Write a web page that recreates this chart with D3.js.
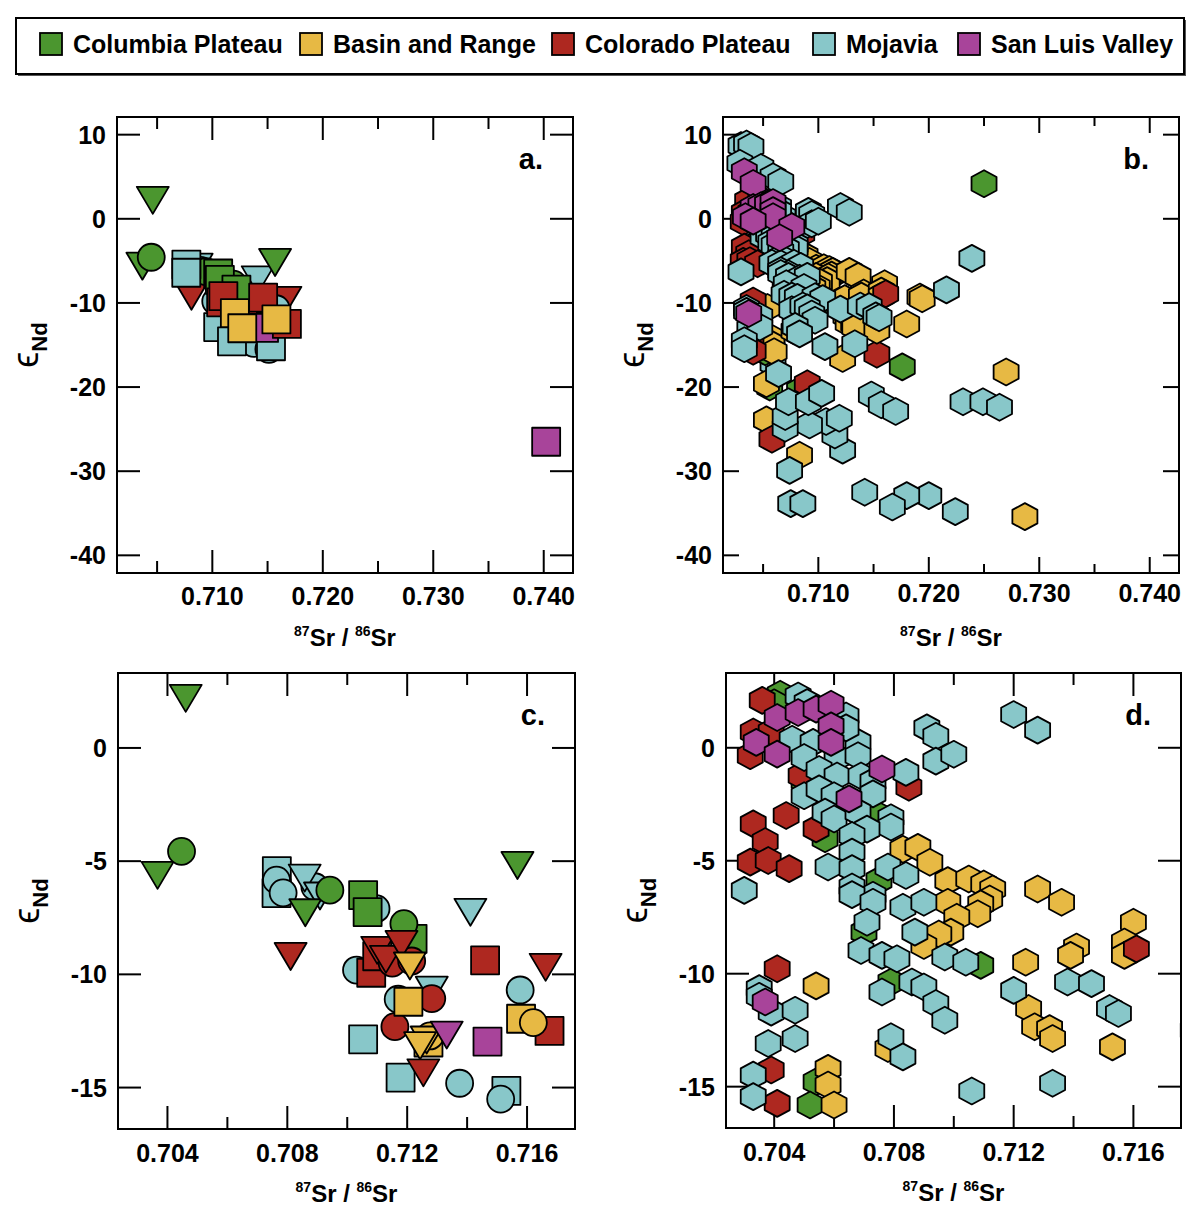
<!DOCTYPE html>
<meta charset="utf-8">
<script src="https://d3js.org/d3.v7.min.js"></script>
<style>
  body { margin: 0; background: #fff; }
  text { font-family: "Liberation Sans", Arial, Helvetica, sans-serif; font-weight: bold; fill: #000; }
</style>
<div id="chart"></div>
<script>
// ---- regions and colours
var regions = ["Columbia Plateau", "Basin and Range", "Colorado Plateau", "Mojavia", "San Luis Valley"];
var regionColors = ["#4b962f", "#e7b944", "#ae2820", "#88c7c9", "#a8449a"];

// ---- panels a & c : [87Sr/86Sr, eNd, marker]  (s square, c circle, t triangle)
var symMojavia = [
  [0.70765, -5.44, "s"], [0.70764, -6.41, "s"], [0.71053, -12.87, "s"], [0.71178, -14.56, "s"], [0.71531, -15.15, "s"],
  [0.70764, -5.84, "c"], [0.70786, -6.40, "c"], [0.70892, -6.13, "c"], [0.71096, -7.10, "c"], [0.71031, -9.81, "c"],
  [0.71170, -11.10, "c"], [0.71577, -10.69, "c"], [0.71375, -14.81, "c"], [0.71512, -15.51, "c"],
  [0.70858, -5.75, "t"], [0.70909, -6.54, "t"], [0.71411, -7.26, "t"], [0.71282, -10.7, "t"]
];
var symColumbia = [
  [0.70367, -5.63, "t"], [0.70461, 2.19, "t"], [0.70860, -7.28, "t"], [0.71568, -5.19, "t"],
  [0.71053, -6.50, "s"], [0.71068, -7.25, "s"], [0.71218, -8.43, "s"],
  [0.70447, -4.57, "c"], [0.70942, -6.28, "c"], [0.71189, -7.76, "c"]
];
var symColorado = [
  [0.71080, -9.93, "s"], [0.71100, -9.2, "s"], [0.71460, -9.38, "s"], [0.71675, -12.50, "s"],
  [0.71150, -9.5, "c"], [0.71215, -9.41, "c"], [0.71282, -11.07, "c"], [0.71159, -12.31, "c"],
  [0.70811, -9.21, "t"], [0.71100, -8.94, "t"], [0.71129, -9.34, "t"], [0.71181, -8.68, "t"], [0.71662, -9.69, "t"], [0.71254, -14.35, "t"]
];
var symBasin = [
  [0.71204, -11.21, "s"], [0.71271, -13.01, "s"], [0.71580, -11.96, "s"],
  [0.71276, -12.72, "c"], [0.71621, -12.13, "c"],
  [0.71209, -9.63, "t"], [0.71265, -12.9, "t"], [0.71243, -13.15, "t"]
];
var symSanLuis = [
  [0.71468, -12.97, "s"], [0.74022, -26.5, "s"], [0.71332, -12.68, "t"]
];

// ---- panels b & d : hexagons [87Sr/86Sr, eNd]
var hexColumbia = [
  [0.7042, 2.37], [0.7040, 1.99], [0.7050, -1.46], [0.7075, -3.0], [0.7057, -4.03], [0.7075, -5.87], [0.7070, -8.16],
  [0.7109, -9.63], [0.7079, -10.37], [0.7054, -14.78], [0.7052, -15.81],
  [0.7250, 4.17], [0.7176, -17.6], [0.7056, -20.0], [0.7083, -20.4]
];
var hexBasin = [
  [0.7083, -4.49], [0.7088, -4.41], [0.7092, -5.07], [0.7098, -5.88], [0.7105, -5.81], [0.7110, -6.03], [0.7113, -6.25],
  [0.7112, -6.69], [0.7098, -6.84], [0.7109, -6.91], [0.7108, -7.35], [0.7101, -7.5], [0.7099, -8.16], [0.7095, -8.24], [0.7090, -8.75],
  [0.7128, -6.25], [0.7136, -6.84], [0.7124, -9.49], [0.7141, -8.82], [0.7139, -9.19], [0.7160, -7.72], [0.7157, -8.6], [0.7157, -9.19],
  [0.7125, -11.54], [0.7127, -12.35], [0.7132, -12.43], [0.7133, -12.87], [0.7153, -13.24],
  [0.7054, -10.54], [0.7058, -14.19], [0.7058, -14.93], [0.7060, -15.81], [0.7078, -13.31],
  [0.7192, -9.3], [0.7194, -9.5], [0.7180, -12.5], [0.7270, -18.2], [0.7287, -35.4], [0.7083, -28.1], [0.7053, -19.6], [0.7053, -23.9]
];
var hexColorado = [
  [0.7036, 2.1], [0.7033, 0.7], [0.7039, 0.7], [0.7032, -0.35], [0.7049, -1.24], [0.7085, -1.75], [0.7044, -3.0], [0.7033, -3.37],
  [0.7054, -3.59], [0.7037, -4.15], [0.7032, -5.06], [0.7038, -4.99], [0.7045, -5.35], [0.7041, -9.78], [0.7161, -8.9],
  [0.7039, -14.26], [0.7041, -15.74],
  [0.7090, -19.6], [0.7058, -26.2]
];
var hexMojavia = [
  [0.7030, 8.7], [0.7035, 8.9], [0.7039, 8.6], [0.7029, 6.6], [0.7048, 6.1], [0.7059, 5.0], [0.7066, 4.4],
  [0.7048, 2.29], [0.7051, 2.0], [0.7064, 1.41], [0.7046, 0.38], [0.7053, 0.24], [0.7050, -0.43], [0.7061, -0.43],
  [0.7068, 0.24], [0.7068, -0.35], [0.7064, 0.88], [0.7055, -0.96], [0.7061, -1.25], [0.7069, -1.25], [0.7073, -1.5],
  [0.7084, -1.09], [0.7050, -2.12], [0.7055, -1.82], [0.7060, -2.12], [0.7073, -2.04], [0.7057, -2.85], [0.7060, -3.15],
  [0.7068, -2.85], [0.7079, -3.1], [0.7079, -3.51], [0.7071, -3.6], [0.7066, -3.88], [0.7066, -4.62], [0.7058, -5.28],
  [0.7066, -5.35], [0.7078, -5.28], [0.7084, -5.65], [0.7030, -6.31], [0.7066, -6.16], [0.7073, -6.53], [0.7066, -6.5],
  [0.7091, 0.88], [0.7094, 0.51], [0.7094, -0.59], [0.7100, -0.29], [0.7120, 1.47], [0.7128, 0.78],
  [0.7073, -6.84], [0.7083, -7.06], [0.7090, -6.84], [0.7071, -7.72], [0.7087, -8.16], [0.7069, -8.97], [0.7076, -9.19],
  [0.7081, -9.34], [0.7097, -9.26], [0.7104, -9.49], [0.7076, -10.81], [0.7086, -10.37], [0.7090, -10.59], [0.7094, -11.32],
  [0.7097, -12.06], [0.7120, -10.74], [0.7079, -12.79], [0.7083, -13.68], [0.7138, -10.37], [0.7146, -10.44], [0.7152, -11.54],
  [0.7155, -11.76], [0.7133, -14.85], [0.7106, -15.19], [0.7035, -10.66], [0.7035, -11.0], [0.7039, -11.7], [0.7047, -11.62],
  [0.7038, -13.09], [0.7047, -12.87], [0.7033, -14.49], [0.7033, -15.44],
  [0.7239, -4.7], [0.7216, -8.45], [0.7231, -21.75], [0.7249, -21.75], [0.7264, -22.4], [0.7224, -34.8], [0.7200, -32.9],
  [0.7180, -32.9], [0.7167, -34.25], [0.7142, -32.5], [0.7075, -33.85], [0.7086, -33.85], [0.7074, -29.9], [0.7122, -27.5],
  [0.7115, -25.7], [0.7107, -24.1], [0.7119, -23.7], [0.7092, -24.5], [0.7070, -24.9], [0.7070, -23.5], [0.7073, -21.75],
  [0.7091, -21.75], [0.7103, -20.75], [0.7064, -18.4], [0.7148, -20.95], [0.7157, -22.1], [0.7170, -22.9]
];
var hexSanLuis = [
  [0.7033, 5.6], [0.7041, 4.2],
  [0.7041, 1.34], [0.7048, 1.56], [0.7054, 1.71], [0.7059, 1.93], [0.7059, 0.97], [0.7059, 0.24], [0.7034, 0.24],
  [0.7041, -0.28], [0.7076, -0.94], [0.7065, -2.26], [0.7037, -11.25]
];
// samples seen in panel b only
var hexOnlyB = [[0.7153, -16.1, "Colorado Plateau"], [0.7122, -16.6, "Basin and Range"], [0.7059, -17.2, "Mojavia"]];

// ---- tick values
var wideXMajor = [0.710, 0.720, 0.730, 0.740], wideXMinor = [0.705, 0.715, 0.725, 0.735];
var wideY = [10, 0, -10, -20, -30, -40];
var zoomXMajor = [0.704, 0.708, 0.712, 0.716], zoomXMinor = [0.706, 0.710, 0.714];
var zoomY = [0, -5, -10, -15];

var W = 1188, H = 1209;
var svg = d3.select("#chart").append("svg").attr("width", W).attr("height", H);

function color(name) { return regionColors[regions.indexOf(name)]; }

function markerPath(t) {
  if (t === "s") return "M-14,-14H14V14H-14Z";
  if (t === "c") return d3.symbol(d3.symbolCircle, Math.PI * 13.5 * 13.5)();
  if (t === "t") return "M-16,-13.5H16L0,13.5Z";
  // pointy-top hexagon, a touch wider than regular
  var r = 13.5, p = [];
  for (var k = 0; k < 6; k++) {
    var a = Math.PI / 2 + k * Math.PI / 3;
    p.push([1.07 * r * Math.cos(a), -r * Math.sin(a)]);
  }
  return "M" + p.map(function(q) { return q[0].toFixed(2) + "," + q[1].toFixed(2); }).join("L") + "Z";
}

// panel c draws region by region
var symLayers = [
  ["Mojavia", symMojavia], ["Columbia Plateau", symColumbia], ["Colorado Plateau", symColorado],
  ["Basin and Range", symBasin], ["San Luis Valley", symSanLuis]
];
// panel a draws shape by shape (squares end up on top)
var shapeOrder = ["t", "c", "s"];
var squareRegionOrder = ["Mojavia", "San Luis Valley", "Columbia Plateau", "Colorado Plateau", "Basin and Range"];

var hexLayers = [
  ["Columbia Plateau", hexColumbia], ["Basin and Range", hexBasin], ["Colorado Plateau", hexColorado],
  ["Mojavia", hexMojavia], ["San Luis Valley", hexSanLuis]
];

var panels = [
  { tag: "a.", x0: 117, y0: 117, x1: 573, y1: 573, xDom: [0.70137, 0.74265], yDom: [-42.1, 12.1],
    xMaj: wideXMajor, xMin: wideXMinor, yT: wideY, tl: 23, ts: 12, lab: 32, kind: "sym", byShape: true },
  { tag: "b.", x0: 723, y0: 117, x1: 1179, y1: 573, xDom: [0.70137, 0.74265], yDom: [-42.1, 12.1],
    xMaj: wideXMajor, xMin: wideXMinor, yT: wideY, tl: 16, ts: 9, lab: 29, kind: "hex", extra: true },
  { tag: "c.", x0: 118, y0: 673, x1: 575, y1: 1129, xDom: [0.70235, 0.7176], yDom: [-16.83, 3.31],
    xMaj: zoomXMajor, xMin: zoomXMinor, yT: zoomY, tl: 23, ts: 12, lab: 33, kind: "sym", byShape: false },
  { tag: "d.", x0: 726, y0: 673, x1: 1181, y1: 1128, xDom: [0.70239, 0.71759], yDom: [-16.83, 3.31],
    xMaj: zoomXMajor, xMin: zoomXMinor, yT: zoomY, tl: 23, ts: 12, lab: 33, kind: "hex", extra: false }
];

panels.forEach(function(p, i) {
  var x = d3.scaleLinear().domain(p.xDom).range([p.x0, p.x1]);
  var y = d3.scaleLinear().domain(p.yDom).range([p.y1, p.y0]);
  var g = svg.append("g");

  // ticks on all four sides
  var tk = g.append("g").attr("stroke", "#000").attr("stroke-width", 2);
  p.xMaj.concat(p.xMin).forEach(function(v) {
    var L = p.xMaj.indexOf(v) >= 0 ? p.tl : p.ts;
    tk.append("line").attr("x1", x(v)).attr("x2", x(v)).attr("y1", p.y0).attr("y2", p.y0 + L);
    tk.append("line").attr("x1", x(v)).attr("x2", x(v)).attr("y1", p.y1).attr("y2", p.y1 - L);
  });
  p.yT.forEach(function(v) {
    tk.append("line").attr("x1", p.x0).attr("x2", p.x0 + p.tl).attr("y1", y(v)).attr("y2", y(v));
    tk.append("line").attr("x1", p.x1).attr("x2", p.x1 - p.tl).attr("y1", y(v)).attr("y2", y(v));
  });

  // markers
  svg.append("clipPath").attr("id", "clip" + i).append("rect")
    .attr("x", p.x0).attr("y", p.y0).attr("width", p.x1 - p.x0).attr("height", p.y1 - p.y0);
  var mk = g.append("g").attr("clip-path", "url(#clip" + i + ")")
    .attr("stroke", "#000").attr("stroke-width", 1.8).attr("stroke-linejoin", "round");

  function place(d) { return "translate(" + x(d[0]) + "," + y(d[1]) + ")"; }

  if (p.kind === "sym") {
    var layers = [];
    if (p.byShape) {
      shapeOrder.forEach(function(s) {
        var order = s === "s" ? squareRegionOrder : symLayers.map(function(l) { return l[0]; });
        order.forEach(function(name) {
          var src = symLayers.filter(function(l) { return l[0] === name; })[0][1];
          layers.push([name, src.filter(function(d) { return d[2] === s; })]);
        });
      });
    } else {
      layers = symLayers;
    }
    layers.forEach(function(layer) {
      mk.selectAll(null).data(layer[1]).enter().append("path")
        .attr("d", function(d) { return markerPath(d[2]); })
        .attr("transform", place)
        .attr("fill", color(layer[0]));
    });
  } else {
    var hexHere = p.extra ? [[null, hexOnlyB]].concat(hexLayers) : hexLayers;
    hexHere.forEach(function(layer) {
      mk.selectAll(null).data(layer[1]).enter().append("path")
        .attr("d", markerPath("h"))
        .attr("transform", place)
        .attr("fill", function(d) { return color(layer[0] || d[2]); });
    });
  }

  // frame
  g.append("rect").attr("x", p.x0).attr("y", p.y0).attr("width", p.x1 - p.x0).attr("height", p.y1 - p.y0)
    .attr("fill", "none").attr("stroke", "#000").attr("stroke-width", 2);

  // tick labels
  g.selectAll(null).data(p.xMaj).enter().append("text")
    .attr("x", function(d) { return x(d); }).attr("y", p.y1 + p.lab)
    .attr("text-anchor", "middle").style("font-size", "25px")
    .text(function(d) { return d3.format(".3f")(d); });
  g.selectAll(null).data(p.yT).enter().append("text")
    .attr("x", p.x0 - 11).attr("y", function(d) { return y(d); }).attr("dy", "0.36em")
    .attr("text-anchor", "end").style("font-size", "25px")
    .text(function(d) { return d < 0 ? "-" + Math.abs(d) : String(d); });

  // axis titles
  var cx = (p.x0 + p.x1) / 2, cy = (p.y0 + p.y1) / 2;
  var xt = g.append("text").attr("x", cx).attr("y", p.y1 + 73).attr("text-anchor", "middle").style("font-size", "24px");
  xt.append("tspan").text("87").style("font-size", "14px").attr("dy", -10);
  xt.append("tspan").text("Sr / ").attr("dy", 10);
  xt.append("tspan").text("86").style("font-size", "14px").attr("dy", -10);
  xt.append("tspan").text("Sr").attr("dy", 10);

  var yt = g.append("text").attr("text-anchor", "middle")
    .attr("transform", "translate(" + (p.x0 - 79) + "," + cy + ") rotate(-90)");
  yt.append("tspan").text("\u03f5").style("font-size", "36px").style("font-weight", "normal");
  yt.append("tspan").text("Nd").style("font-size", "22px").attr("dy", 9);

  // panel letter
  g.append("text").attr("x", p.x1 - 30).attr("y", p.y0 + 52).attr("text-anchor", "end")
    .style("font-size", "29px").text(p.tag);
});

// ---- legend
var leg = svg.append("g");
leg.append("rect").attr("x", 18).attr("y", 20).attr("width", 1168).attr("height", 56).attr("fill", "#555");
leg.append("rect").attr("x", 16).attr("y", 18).attr("width", 1168).attr("height", 56)
  .attr("fill", "#fff").attr("stroke", "#000").attr("stroke-width", 2);
var legX = [40, 300, 552, 813, 958];
regions.forEach(function(r, i) {
  leg.append("rect").attr("x", legX[i]).attr("y", 33).attr("width", 22).attr("height", 22)
    .attr("fill", regionColors[i]).attr("stroke", "#000").attr("stroke-width", 1.8);
  leg.append("text").attr("x", legX[i] + 33).attr("y", 53).style("font-size", "25px").text(r);
});
</script>
